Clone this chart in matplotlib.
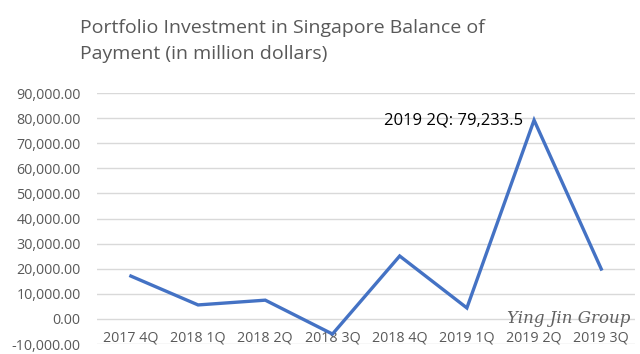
import matplotlib.pyplot as plt
from matplotlib.ticker import FuncFormatter

# Portfolio investment, Singapore balance of payments (million dollars)
quarters = ['2017 4Q', '2018 1Q', '2018 2Q', '2018 3Q', '2018 4Q', '2019 1Q', '2019 2Q', '2019 3Q']
values = [17100, 5600, 7500, -6000, 25100, 4400, 79233.5, 19900]
yticks = list(range(-10000, 90001, 10000))

plt.rcParams['font.family'] = ['Open Sans', 'DejaVu Sans']

fig = plt.figure(figsize=(6.4, 3.54), dpi=100)
ax = fig.add_axes([0.152, 0.028, 0.840, 0.709])

x = list(range(len(quarters)))
ax.plot(x, values, color='#4472C4', linewidth=2.4, solid_joinstyle='miter')

ax.set_xlim(-0.5, len(quarters) - 0.5)
ax.set_ylim(-10000, 90000)
ax.set_yticks(yticks)
ax.yaxis.set_major_formatter(FuncFormatter(lambda v, p: f'{v:,.2f}'))
ax.set_xticks(x)
ax.set_xticklabels(quarters)

ax.grid(axis='y', color='#d9d9d9', linewidth=1)
ax.set_axisbelow(True)
for s in ax.spines.values():
    s.set_visible(False)
ax.tick_params(length=0, colors='#595959', labelsize=10.3)
ax.tick_params(axis='y', pad=12)
ax.tick_params(axis='x', pad=-10)

# peak label
i = values.index(max(values))
ax.annotate(f'{quarters[i]}: {values[i]:,.1f}', xy=(x[i], values[i]),
            xytext=(-8, 0), textcoords='offset points', ha='right', va='center',
            fontsize=12, color='black')

fig.text(0.125, 0.945, 'Portfolio Investment in Singapore Balance of\nPayment (in million dollars)',
         ha='left', va='top', fontsize=14, color='#595959', linespacing=1.55)

# watermark
fig.text(0.985, 0.10, 'Ying Jin Group', ha='right', va='center', fontsize=12,
         family='DejaVu Serif', style='italic', color='#606060')

fig.savefig('out.png', dpi=100)
